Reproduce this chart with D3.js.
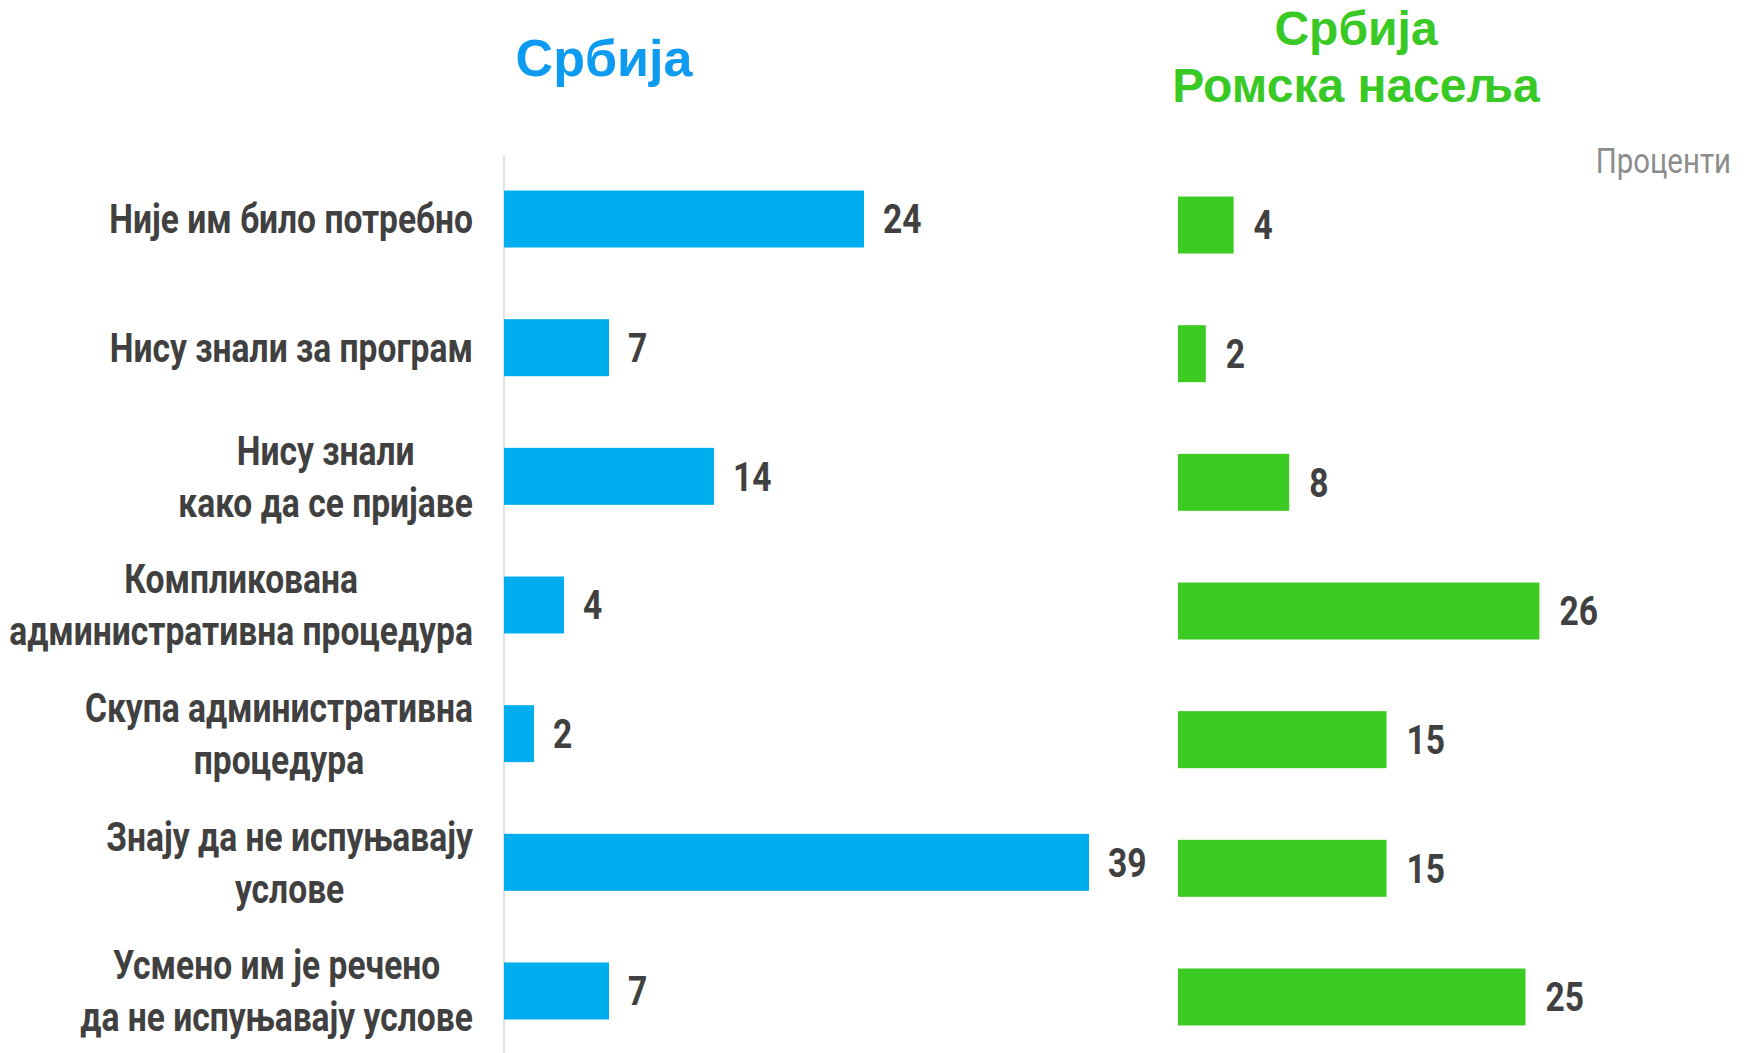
<!DOCTYPE html>
<html>
<head>
<meta charset="utf-8">
<script src="https://cdn.jsdelivr.net/npm/d3@7"></script>
<style>
	body { margin: 0; background: #fff; }
	svg { display: block; }
</style>
</head>
<body>
<svg id="chart" width="1744" height="1053"></svg>
<script>
// categories (line breaks mark the label lines)
const categories = [
	"Није им било потребно",
	"Нису знали за програм",
	"Нису знали\nкако да се пријаве",
	"Компликована\nадминистративна процедура",
	"Скупа административна\nпроцедура",
	"Знају да не испуњавају\nуслове",
	"Усмено им је речено\nда не испуњавају услове",
];
const serbiaValues = [24, 7, 14, 4, 2, 39, 7];
const romaValues = [4, 2, 8, 26, 15, 15, 25];

const leftTitle = ["Србија"];
const rightTitle = ["Србија", "Ромска насеља"];
const unitLabel = "Проценти";

// no narrow face installed: squeeze Roboto horizontally to get a Calibri-like look
const labelFont = "Roboto, 'Liberation Sans', sans-serif";
const titleFont = "'Liberation Sans', Arial, sans-serif";
const squeeze = 0.84;

const svg = d3.select("#chart");

// helper: condensed text at a point
function squeezedText(parent, x, y, str, opts) {
	return parent
		.append("text")
		.attr("transform", `translate(${x},${y}) scale(${squeeze},1)`)
		.attr("dy", "0.36em")
		.attr("text-anchor", opts.anchor || "start")
		.attr("font-family", labelFont)
		.attr("font-weight", opts.weight || "bold")
		.attr("font-size", opts.size)
		.attr("fill", opts.fill || "#404040")
		.text(str);
}

// shared rows
const y = d3
	.scaleBand()
	.domain(categories)
	.range([154.5, 1055.5])
	.paddingInner(0.557)
	.paddingOuter(0.28);

// ====================LEFT PANEL (Србија)==========================
const xLeft = d3.scaleLinear().domain([0, 40]).range([504, 504 + 600]);

svg
	.append("line")
	.attr("x1", xLeft(0))
	.attr("x2", xLeft(0))
	.attr("y1", 156)
	.attr("y2", 1053)
	.attr("stroke", "#d9d9d9")
	.attr("stroke-width", 1.5);

const leftBars = svg.append("g");
leftBars
	.selectAll("rect")
	.data(serbiaValues)
	.join("rect")
	.attr("x", xLeft(0))
	.attr("y", (d, i) => y(categories[i]))
	.attr("width", (d) => xLeft(d) - xLeft(0))
	.attr("height", y.bandwidth())
	.attr("fill", "#00aeef");

serbiaValues.forEach((d, i) => {
	squeezedText(leftBars, xLeft(d) + 19, y(categories[i]) + y.bandwidth() / 2, d, {
		size: 40,
	});
});

// ====================CATEGORY LABELS==========================
const labelRight = 473;
const lineHeight = 52;

categories.forEach((c) => {
	const lines = c.split("\n");
	const g = svg.append("g");
	const cy = y(c) + y.bandwidth() / 2;
	const texts = lines.map((ln) =>
		g
			.append("text")
			.attr("text-anchor", "middle")
			.attr("dy", "0.36em")
			.attr("font-family", labelFont)
			.attr("font-weight", "bold")
			.attr("font-size", 40)
			.attr("fill", "#404040")
			.text(ln)
	);
	// centre the lines on each other, block flush right
	const maxW = d3.max(texts, (t) => t.node().getComputedTextLength()) * squeeze;
	texts.forEach((t, j) =>
		t.attr(
			"transform",
			`translate(${labelRight - maxW / 2},${
				cy + (j - (lines.length - 1) / 2) * lineHeight
			}) scale(${squeeze},1)`
		)
	);
});

// ====================RIGHT PANEL (Ромска насеља)==========================
const xRight = d3.scaleLinear().domain([0, 40]).range([1178, 1178 + 556]);
const rightShift = 6;

const rightBars = svg.append("g").attr("transform", `translate(0,${rightShift})`);
rightBars
	.selectAll("rect")
	.data(romaValues)
	.join("rect")
	.attr("x", xRight(0))
	.attr("y", (d, i) => y(categories[i]))
	.attr("width", (d) => xRight(d) - xRight(0))
	.attr("height", y.bandwidth())
	.attr("fill", "#3ccb23");

romaValues.forEach((d, i) => {
	squeezedText(rightBars, xRight(d) + 20, y(categories[i]) + y.bandwidth() / 2, d, {
		size: 40,
	});
});

// ====================TITLES==========================
svg
	.append("text")
	.attr("x", 604)
	.attr("y", 76)
	.attr("text-anchor", "middle")
	.attr("font-family", titleFont)
	.attr("font-weight", "bold")
	.attr("font-size", 52)
	.attr("fill", "#0d9bf2")
	.text(leftTitle[0]);

svg
	.selectAll("text.rtitle")
	.data(rightTitle)
	.join("text")
	.attr("class", "rtitle")
	.attr("x", 1356)
	.attr("y", (d, i) => 45 + i * 57)
	.attr("text-anchor", "middle")
	.attr("font-family", titleFont)
	.attr("font-weight", "bold")
	.attr("font-size", 48)
	.attr("fill", "#38c925")
	.text((d) => d);

squeezedText(svg, 1731, 160, unitLabel, {
	anchor: "end",
	weight: "normal",
	size: 35,
	fill: "#8c8c8c",
});
</script>
</body>
</html>
